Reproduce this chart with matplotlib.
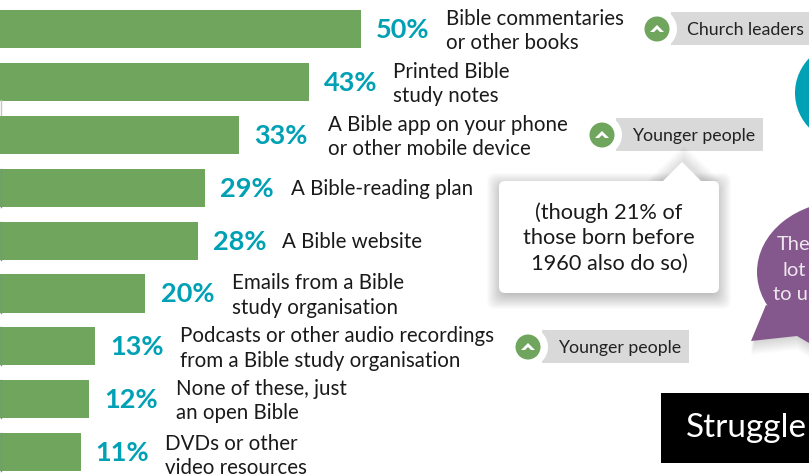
import matplotlib
matplotlib.use("Agg")
import matplotlib.pyplot as plt
from matplotlib.patches import Polygon, Circle, FancyBboxPatch, Rectangle, Ellipse

plt.rcParams['font.family'] = ['Lato', 'DejaVu Sans']

# bar lengths, in percent
bar_values = [50, 42.8, 33.1, 28.4, 27.4, 20.1, 13.2, 12.3, 11.2]
pct_labels = ["50%", "43%", "33%", "29%", "28%", "20%", "13%", "12%", "11%"]
answers = [
    "Bible commentaries\nor other books",
    "Printed Bible\nstudy notes",
    "A Bible app on your phone\nor other mobile device",
    "A Bible-reading plan",
    "A Bible website",
    "Emails from a Bible\nstudy organisation",
    "Podcasts or other audio recordings\nfrom a Bible study organisation",
    "None of these, just\nan open Bible",
    "DVDs or other\nvideo resources",
]
pct_x = [376, 324, 254, 220, 213, 161, 110, 104, 95]
answer_x = [446, 393, 328, 291, 282, 232, 180, 176, 165]
answer_dy = [2, 2, 2, 1, 1, 2, 2, 2, 4]

tags = ["Church leaders", "Younger people", "Younger people"]
tag_circle_x = [657, 602, 528]
tag_y = [29, 135, 347]
tag_end_x = [809, 763, 689]

GREEN = "#6fa55d"
TEAL = "#00a0b5"
PURPLE = "#84588c"

fig = plt.figure(figsize=(8.09, 4.75), dpi=100)

# bars, in percent against row number
ax = fig.add_axes([0, 0, 1, 1])
px_per_pct = 7.22
row_px = 52.9
ax.set_xlim(0, 809 / px_per_pct)
ax.set_ylim((475 - 29) / row_px, -29 / row_px)
ax.axis("off")
rows = list(range(len(bar_values)))
ax.barh(rows, bar_values, height=0.72, color=GREEN, linewidth=0)

# everything else in pixels of the page
pg = fig.add_axes([0, 0, 1, 1])
pg.set_xlim(0, 809)
pg.set_ylim(475, 0)
pg.axis("off")
pg.patch.set_alpha(0)

pg.plot([0.5, 0.5], [100, 115], color="#c4c4c4", lw=1)
for i in rows:
    y = 29 + i * row_px
    if i >= 3:
        pg.plot([0.5, 0.5], [y - 19, y + 19], color="#6f9a80", lw=1)
    pg.text(pct_x[i], y + 1, pct_labels[i], color=TEAL, fontsize=19.5, fontweight="bold",
            va="center", ha="left")
    pg.text(answer_x[i], y + answer_dy[i], answers[i], color="#1a1a1a", fontsize=14.8, va="center", ha="left",
            linespacing=1.27)

# tags
for cx, cy, ex, name in zip(tag_circle_x, tag_y, tag_end_x, tags):
    pg.add_patch(Polygon([(cx + 14, cy - 17), (ex, cy - 17), (ex, cy + 16), (cx + 14, cy + 16)],
                         closed=True, fc="#d9d9d9", lw=0))
    pg.add_patch(Circle((cx, cy), 20, fc="white", lw=0))
    pg.add_patch(Circle((cx, cy), 12.5, fc=GREEN, lw=0))
    pg.add_patch(Polygon([(cx - 7, cy + 3), (cx, cy - 4), (cx + 7, cy + 3), (cx + 3, cy + 3),
                          (cx, cy), (cx - 3, cy + 3)], closed=True, fc="white", lw=0))
    pg.text(cx + 30, cy + 1, name, color="#222222", fontsize=12.8, va="center", ha="left")

# white callout with soft shadow
for k in range(16, 0, -1):
    pg.add_patch(FancyBboxPatch((499 - k + 4, 181 - k + 8), 220 + 2 * k - 8, 112 + 2 * k - 8,
                                boxstyle="round,pad=0,rounding_size=8", fc="black", alpha=0.016, lw=0))
    pg.add_patch(Polygon([(662 - k, 181), (684, 161 - k), (706 + k, 181)], closed=True, fc="black",
                         alpha=0.008, lw=0))
pg.add_patch(FancyBboxPatch((499, 181), 220, 112, boxstyle="round,pad=0,rounding_size=6", fc="white", lw=0))
pg.add_patch(Polygon([(662, 182), (682, 162), (702, 182)], closed=True, fc="white", lw=0))
pg.text(609, 238, "(though 21% of\nthose born before\n1960 also do so)", color="#1a1a1a", fontsize=15.7,
        ha="center", va="center", linespacing=1.36)

# cut-off shapes on the right
pg.add_patch(Ellipse((850, 93), 110, 104, fc=TEAL, lw=0))
for k in range(14, 0, -1):
    pg.add_patch(Polygon([(751, 341 + k), (766, 305), (809, 320), (809, 343 + k), (797, 336 + k)],
                         closed=True, fc="black", alpha=0.012, lw=0))
pg.add_patch(Ellipse((845, 272), 176, 142, fc=PURPLE, lw=0))
pg.add_patch(Polygon([(766, 305), (751, 341), (797, 336), (809, 343), (809, 320)], closed=True, fc=PURPLE, lw=0))
pg.text(777, 244, "The", color="#eee6ee", fontsize=14.5, va="center", ha="left", clip_on=True)
pg.text(783, 270, "lot", color="#eee6ee", fontsize=14.5, va="center", ha="left", clip_on=True)
pg.text(773, 295, "to u", color="#eee6ee", fontsize=14.5, va="center", ha="left", clip_on=True)

# black heading box
pg.add_patch(Rectangle((661, 393), 148, 70, fc="black", lw=0))
pg.text(686, 428, "Struggle", color="white", fontsize=24, va="center", ha="left", clip_on=True)

fig.savefig("out.png", dpi=100)
